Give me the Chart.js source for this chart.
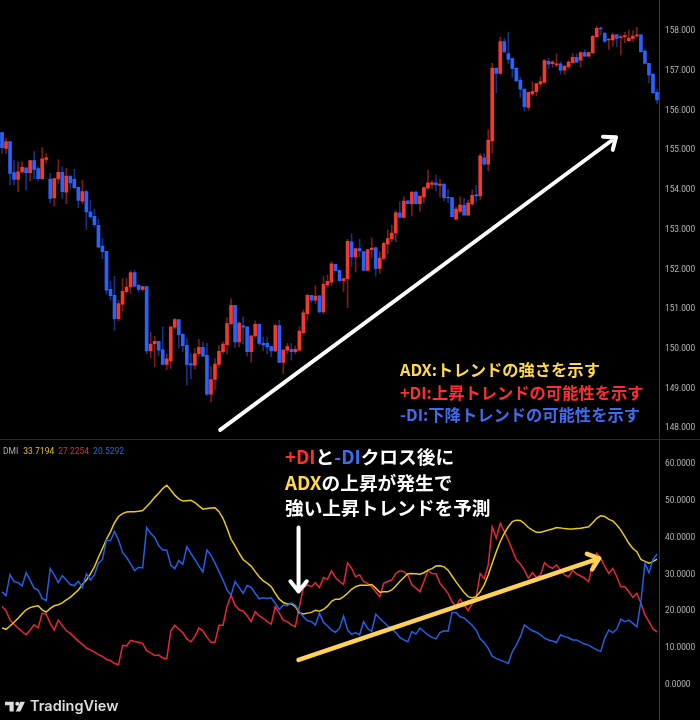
<!DOCTYPE html>
<html><head><meta charset="utf-8">
<style>html,body{margin:0;padding:0;background:#000;overflow:hidden}canvas{display:block}</style>
<script src="https://cdn.jsdelivr.net/npm/chart.js@4"></script>
</head><body><canvas id="c" width="700" height="720"></canvas>
<script>
const opens=[155.42,155.02,155.19,154.41,154.24,154.43,154.53,154.41,154.71,154.51,
154.26,154.74,154.25,153.77,154.25,154.42,153.92,154.32,154.24,154.04,
153.69,153.93,153.42,153.31,153.08,152.56,152.43,151.47,151.32,150.73,
151.10,151.41,151.53,151.89,151.58,151.47,151.54,149.92,150.10,150.16,
149.95,149.58,149.67,150.52,150.71,150.34,150.06,149.60,149.56,149.85,
150.01,149.81,148.83,149.20,149.58,149.90,150.08,150.60,151.07,150.15,
150.55,150.53,149.90,150.30,150.59,150.11,150.11,150.03,149.92,150.56,
149.63,149.94,149.96,149.90,149.94,150.38,150.86,151.32,151.20,151.31,
150.90,151.58,151.65,152.10,151.95,151.69,151.74,152.67,152.29,152.50,
152.42,151.95,152.47,152.52,152.00,152.25,152.61,152.74,152.89,153.40,
153.28,153.70,153.62,153.92,153.63,153.80,154.02,154.11,154.15,154.09,
154.12,153.79,153.78,153.24,153.43,153.59,153.34,153.62,153.85,153.82,
154.78,154.62,155.21,157.04,156.91,157.71,157.41,157.28,157.04,156.74,
156.51,156.05,156.39,156.45,156.64,156.68,157.21,157.15,157.12,157.15,
156.99,157.08,157.18,157.31,157.24,157.43,157.34,157.43,157.83,158.05,
157.92,157.75,157.75,157.88,157.81,157.83,157.73,157.79,157.85,157.88,
157.47,157.16,156.89,156.43];
const closes=[155.04,155.19,154.39,154.24,154.43,154.54,154.41,154.71,154.49,154.26,
154.76,154.78,153.76,154.26,154.42,153.93,154.32,154.15,154.03,153.71,
153.93,153.42,153.30,153.10,152.53,152.42,151.45,151.31,150.73,151.11,
151.42,151.53,151.89,151.55,151.47,151.54,149.92,150.09,150.16,149.94,
149.58,149.72,150.53,150.71,150.33,150.05,149.58,149.56,149.85,150.01,
149.79,148.83,149.20,149.59,149.91,150.09,150.61,151.07,150.15,150.62,
150.52,149.90,150.30,150.59,150.11,150.07,150.02,149.92,150.56,149.63,
149.94,150.03,149.90,149.96,150.42,150.88,151.32,151.20,151.30,150.90,
151.60,151.67,152.11,151.94,151.69,151.74,152.68,152.29,152.50,152.44,
151.95,152.47,152.51,152.00,152.26,152.63,152.75,152.89,153.40,153.28,
153.69,153.63,153.92,153.63,153.82,154.03,154.15,154.15,154.10,154.12,
153.78,153.77,153.30,153.49,153.59,153.34,153.64,153.84,153.82,154.83,
154.62,155.23,157.04,156.91,157.71,157.45,157.26,157.03,156.72,156.51,
156.07,156.43,156.45,156.65,156.70,157.23,157.14,157.19,157.15,156.99,
157.09,157.19,157.31,157.19,157.43,157.34,157.43,157.84,158.04,158.03,
157.72,157.77,157.88,157.79,157.83,157.86,157.80,157.85,157.88,157.45,
157.16,156.87,156.42,156.24];
const highs=[155.42,155.27,155.19,154.71,154.68,154.68,154.53,154.71,154.94,154.56,
155.04,154.89,154.39,154.26,154.73,154.56,154.52,154.32,154.49,154.04,
154.22,153.97,153.72,153.49,153.23,152.75,152.43,151.68,151.80,151.20,
151.74,151.74,151.94,151.95,151.58,151.54,151.54,150.39,150.29,150.16,
150.53,149.85,150.53,150.74,150.71,150.36,150.23,149.85,149.98,150.21,
150.15,150.11,149.52,149.73,150.06,150.15,150.76,151.23,151.07,150.65,
150.78,150.53,150.30,150.67,150.61,150.27,150.27,150.03,150.59,150.69,
149.96,150.11,150.11,150.04,150.53,150.95,151.35,151.32,151.56,151.31,
151.80,151.83,152.17,152.10,151.95,151.74,152.73,152.86,152.50,152.73,
152.42,152.47,152.77,152.52,152.42,152.67,152.96,153.09,153.45,153.68,
153.80,153.72,153.93,153.95,153.82,154.05,154.47,154.21,154.35,154.24,
154.12,153.99,153.78,153.55,153.80,153.76,153.72,153.97,154.09,154.89,
154.89,155.48,157.16,157.04,157.82,157.79,157.95,157.28,157.04,156.82,
156.51,156.43,156.70,156.66,156.82,157.26,157.29,157.23,157.40,157.20,
157.09,157.23,157.41,157.41,157.45,157.50,157.45,157.87,158.10,158.08,
157.93,157.77,157.92,157.90,157.88,157.94,158.00,157.98,158.07,157.88,
157.51,157.16,156.89,156.50];
const lows=[154.89,154.89,154.10,154.10,153.93,154.39,153.97,154.20,154.25,154.20,
154.26,154.64,153.65,153.57,154.14,153.76,153.63,153.99,154.01,153.53,
153.63,152.98,153.26,153.03,152.53,152.24,151.35,151.20,150.44,150.68,
150.93,151.37,151.37,151.53,151.40,151.43,149.85,149.75,149.52,149.81,
149.58,149.45,149.48,150.48,149.99,149.90,149.06,149.22,149.47,149.79,
149.78,148.80,148.64,148.95,149.52,149.85,149.85,150.60,150.00,150.02,
150.09,149.79,149.64,150.27,150.06,149.92,149.85,149.77,149.90,149.63,
149.35,149.85,149.69,149.85,149.92,150.36,150.69,151.13,151.11,150.88,
150.86,151.53,151.57,151.92,151.67,151.41,151.01,152.04,151.90,152.29,
151.94,151.94,152.26,151.80,151.87,152.22,152.37,152.67,152.67,153.26,
153.26,153.62,153.32,153.62,153.43,153.65,154.00,154.01,153.95,153.80,
153.70,153.65,153.30,153.21,153.40,153.34,153.34,153.59,153.67,153.72,
154.59,154.46,154.91,156.42,156.89,157.43,157.16,156.81,156.70,156.30,
155.97,155.98,156.35,156.34,156.57,156.68,157.03,157.06,157.08,156.89,
156.89,157.03,157.18,157.18,157.08,157.33,157.33,157.41,157.82,157.87,
157.68,157.51,157.60,157.58,157.37,157.68,157.71,157.71,157.83,157.45,
157.14,156.67,156.40,156.15];
const adx=[15.2,14.8,15.7,16.7,17.8,19.0,20.1,20.7,21.0,21.2,20.1,19.5,20.5,21.2,21.5,22.0,22.8,23.5,24.5,25.5,
27.0,28.2,29.9,31.8,34.4,36.8,39.3,41.4,43.8,45.5,46.3,46.7,46.8,46.8,46.9,47.1,48.2,49.4,50.7,51.8,
53.1,54.0,52.7,51.3,50.3,49.7,49.8,49.9,49.3,48.4,47.5,47.7,47.8,47.9,46.8,45.0,42.3,39.3,37.5,35.5,
33.8,32.9,32.0,30.5,29.1,28.0,27.3,26.4,24.6,23.0,22.1,21.7,21.7,21.0,19.3,19.0,19.2,19.4,20.0,19.7,
20.2,21.1,22.4,23.0,23.0,23.7,24.6,25.7,26.4,26.8,26.8,26.8,27.0,26.0,24.9,25.0,25.0,25.5,26.6,27.8,
28.9,29.9,30.0,29.9,29.8,30.2,30.9,31.3,32.0,32.1,31.8,30.9,29.3,27.7,26.2,24.8,23.7,23.4,23.7,25.0,
26.9,29.6,32.8,35.9,38.7,40.9,42.7,44.1,44.5,44.4,43.6,42.5,41.8,41.2,41.2,41.5,41.8,42.1,42.5,42.4,
42.2,42.1,42.1,42.2,42.3,42.5,42.7,43.8,45.0,45.7,45.5,44.7,44.3,43.2,41.8,40.0,38.2,36.8,35.9,33.8,
33.3,32.8,33.2,33.9];
const plusDI=[21.0,19.9,17.3,16.2,15.1,14.2,13.3,14.6,16.0,15.2,19.2,18.9,16.4,14.6,17.3,15.8,14.4,13.7,12.6,11.6,
10.7,9.7,9.2,8.6,7.9,7.4,6.6,6.3,5.5,5.2,10.4,10.3,11.8,11.5,11.3,11.0,9.0,8.4,7.7,7.8,
7.0,6.8,14.3,15.9,14.8,13.9,12.2,11.4,12.8,15.2,14.4,12.6,11.3,11.3,15.9,15.9,21.0,24.1,21.4,20.1,
19.8,18.5,16.9,19.6,18.5,17.8,16.9,16.2,21.0,19.2,17.3,16.9,16.0,15.5,21.0,26.0,26.9,26.4,27.5,26.1,
28.9,28.4,30.7,28.9,27.8,27.0,32.9,31.4,29.1,29.6,27.8,27.3,26.4,25.0,23.7,27.3,27.8,28.2,30.0,30.7,
30.5,29.6,26.9,26.0,25.0,27.8,30.8,30.0,29.9,27.3,26.0,24.6,22.3,21.0,23.0,21.4,19.9,21.7,23.5,30.0,
28.6,32.3,42.7,39.6,43.6,41.4,39.1,36.4,33.7,32.6,30.9,28.7,30.2,28.9,29.6,32.9,31.9,31.4,32.3,30.9,
29.6,29.1,30.8,29.9,29.3,28.7,27.8,32.8,35.5,34.1,31.9,30.0,31.4,29.1,26.4,26.4,25.0,23.5,24.6,21.9,
18.7,16.9,14.9,14.1];
const minusDI=[25.0,24.0,29.7,27.8,27.5,26.6,30.2,28.2,26.0,25.5,23.2,22.6,31.3,29.6,27.5,29.4,28.2,27.0,26.7,27.9,
26.2,29.9,28.2,29.6,32.8,33.8,39.1,38.9,41.4,39.1,35.7,34.4,32.6,30.8,31.7,31.5,42.5,40.9,39.8,37.6,
36.4,36.4,32.3,31.3,33.5,32.5,37.3,35.5,33.8,32.0,30.4,36.4,35.0,32.8,30.5,28.2,25.5,24.1,27.8,26.2,
24.6,26.7,26.2,24.6,23.1,23.4,23.2,23.4,21.9,20.2,21.4,21.2,22.0,21.4,19.6,18.2,17.2,16.9,16.0,19.2,
16.7,15.7,14.6,14.0,15.1,18.4,14.6,13.4,13.9,13.3,16.9,15.0,14.2,18.9,17.8,16.7,15.7,14.9,13.9,12.6,
11.9,11.4,14.2,13.5,15.1,14.2,13.3,12.6,12.2,13.9,14.4,14.3,19.4,19.4,18.2,17.9,16.9,15.9,14.6,12.2,
11.2,9.6,7.5,6.9,6.4,6.0,5.5,8.7,10.5,12.8,16.0,15.1,14.4,14.0,13.3,12.4,11.9,11.6,11.2,13.3,
12.8,12.5,11.9,11.9,11.3,10.8,10.5,9.8,9.2,8.8,12.4,14.6,13.9,14.8,17.6,16.9,17.3,16.4,15.5,22.3,
32.8,30.2,33.8,35.3];
const candleLabels=opens.map((_,i)=>i);
const priceTicks=[148,149,150,151,152,153,154,155,156,157,158];
const dmiTicks=[0,10,20,30,40,50,60];
const legendText=[["DMI","#a9acb3"],["33.7194","#e0c020"],["27.2254","#d8303c"],["20.5292","#2f66d8"]];
const C={red:"#f2392d",blue:"#2962ff",redW:"rgba(242,57,45,.5)",blueW:"rgba(41,98,255,.5)",
  lnY:"#e8cb14",lnR:"#e8263a",lnB:"#1f60e6",tick:"#b4b6bc",axis:"#3a3a3e",sep:"#2b2b2f",
  tY:"#ffd84d",tR:"#ff2f2f",tB:"#3f6cf2",white:"#ffffff"};
const cjk='"Noto Sans CJK JP"';
const topNotes=[[["ADX:トレンドの強さを示す",C.tY]],[["+DI:上昇トレンドの可能性を示す",C.tR]],[["-DI:下降トレンドの可能性を示す",C.tB]]];
const midNotes=[[["+DI",C.tR],["と",C.white],["-DI",C.tB],["クロス後に",C.white]],[["ADX",C.tY],["の上昇が発生で",C.white]],[["強い上昇トレンドを予測",C.white]]];
const trendArrow={axis:"yPrice",from:[54.3,147.93],to:[152.8,155.3],color:C.white};
const dmiArrow={axis:"yDmi",from:[73.8,6.45],to:[148.6,34.1],color:"#ffd257"};
const crossArrow={axis:"yDmi",from:[73.8,42.5],to:[73.8,25.1],color:C.white};

const overlay={id:"overlay",
 beforeDatasetsDraw(ch){const g=ch.ctx;
   g.save();g.strokeStyle=C.sep;g.lineWidth=1;g.beginPath();g.moveTo(0,439.5);g.lineTo(700,439.5);g.stroke();g.restore();},
 afterDraw(ch){const g=ch.ctx;g.save();
   const arrow=(s,w)=>{const x=ch.scales.x,y=ch.scales[s.axis];
     const x0=x.getPixelForValue(s.from[0]),y0=y.getPixelForValue(s.from[1]),x1=x.getPixelForValue(s.to[0]),y1=y.getPixelForValue(s.to[1]);
     const an=Math.atan2(y1-y0,x1-x0),L=13,sp=0.68;
     g.strokeStyle=s.color;g.lineWidth=w;g.lineCap="round";g.lineJoin="round";
     g.beginPath();g.moveTo(x0,y0);g.lineTo(x1,y1);
     g.moveTo(x1-L*Math.cos(an-sp),y1-L*Math.sin(an-sp));g.lineTo(x1,y1);g.lineTo(x1-L*Math.cos(an+sp),y1-L*Math.sin(an+sp));g.stroke();};
   arrow(trendArrow,4);arrow(dmiArrow,4.5);arrow(crossArrow,4);
   g.textBaseline="middle";g.textAlign="left";
   const line=(segs,x,y)=>{for(const [t,col] of segs){g.fillStyle=col;g.fillText(t,x,y);x+=g.measureText(t).width;}};
   g.font='bold 16.3px '+cjk;
   line(topNotes[0],400,370);line(topNotes[1],400,392.5);line(topNotes[2],400,415);
   g.font='bold 18.7px '+cjk;
   line(midNotes[0],285,457);line(midNotes[1],285,482.5);line(midNotes[2],285,508);
   g.font='8.5px Roboto';let lx=3;
   legendText.forEach(([t,col],i)=>{g.fillStyle=col;g.fillText(t,lx,451.5);lx+=g.measureText(t).width+(i?4:5);});
   g.fillStyle="#dcdcdc";
   g.beginPath();g.moveTo(5,701.7);g.lineTo(13.7,701.7);g.lineTo(13.7,711.5);g.lineTo(9.5,711.5);g.lineTo(9.5,705.3);g.lineTo(5,705.3);g.closePath();g.fill();
   g.beginPath();g.arc(17.3,703.7,2,0,7);g.fill();
   g.beginPath();g.moveTo(20.3,701.7);g.lineTo(25,701.7);g.lineTo(20.3,711.5);g.lineTo(15.8,711.5);g.closePath();g.fill();
   g.font='600 14.5px Inter';g.fillText("TradingView",30,706.8);
   g.restore();}
};
const isUp=i=>closes[i]>=opens[i];
const fitAxis=s=>{s.width=41;s.paddingTop=0;s.paddingBottom=0;};
new Chart(document.getElementById("c"),{
 type:"bar",plugins:[overlay],
 data:{labels:candleLabels,datasets:[
  {label:"wick",yAxisID:"yPrice",grouped:false,barThickness:1,order:3,
   data:lows.map((l,i)=>[l,highs[i]]),backgroundColor:ctx=>isUp(ctx.dataIndex)?C.redW:C.blueW},
  {label:"body",yAxisID:"yPrice",grouped:false,barThickness:3,order:2,
   data:opens.map((o,i)=>[Math.min(o,closes[i]),Math.max(o,closes[i])]),backgroundColor:ctx=>isUp(ctx.dataIndex)?C.red:C.blue},
  {type:"line",label:"ADX",yAxisID:"yDmi",data:adx,borderColor:C.lnY,borderWidth:1.5,pointRadius:0,tension:0,order:1},
  {type:"line",label:"+DI",yAxisID:"yDmi",data:plusDI,borderColor:C.lnR,borderWidth:1.5,pointRadius:0,tension:0,order:1},
  {type:"line",label:"-DI",yAxisID:"yDmi",data:minusDI,borderColor:C.lnB,borderWidth:1.5,pointRadius:0,tension:0,order:0}
 ]},
 options:{responsive:false,animation:false,devicePixelRatio:1,
  layout:{padding:0},
  plugins:{legend:{display:false},tooltip:{enabled:false},title:{display:false}},
  scales:{
   x:{type:"category",offset:true,display:false,grid:{display:false}},
   yPrice:{type:"linear",position:"right",stack:"panes",stackWeight:439.5,min:147.69,max:158.756,
     grid:{display:false,drawTicks:false},border:{display:true,color:C.axis,width:1},
     afterBuildTicks:s=>{s.ticks=priceTicks.map(v=>({value:v}));},
     afterFit:fitAxis,
     ticks:{color:C.tick,padding:6,crossAlign:"near",labelOffset:1.2,font:{family:"Roboto",size:8.3},callback:v=>Number(v).toFixed(3)}},
   yDmi:{type:"linear",position:"right",stack:"panes",stackWeight:280.5,min:-9.88,max:66.45,
     grid:{display:false,drawTicks:false},border:{display:true,color:C.axis,width:1},
     afterBuildTicks:s=>{s.ticks=dmiTicks.map(v=>({value:v}));},
     afterFit:fitAxis,
     ticks:{color:C.tick,padding:6,crossAlign:"near",labelOffset:1.2,font:{family:"Roboto",size:8.3},callback:v=>Number(v).toFixed(4)}}
  }}
});
</script></body></html>
